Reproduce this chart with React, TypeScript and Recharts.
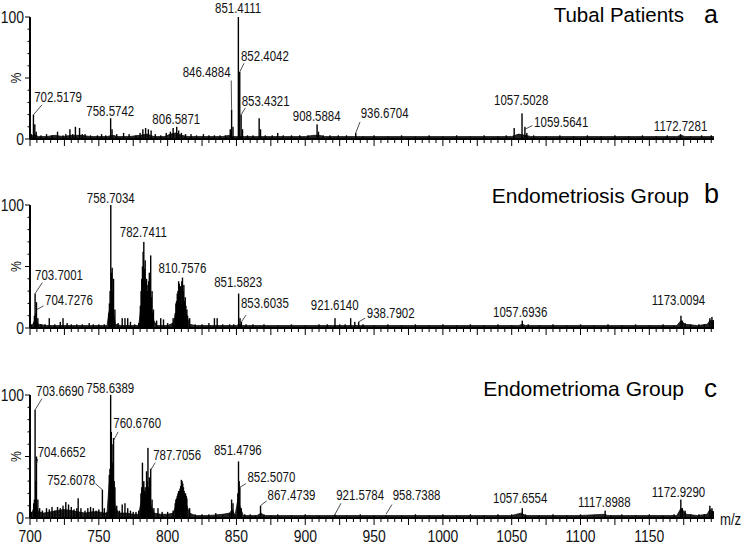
import React from "react";
import { ComposedChart, Bar, Area, XAxis, YAxis, ReferenceDot, ReferenceLine } from "recharts";

// m/z axis
const mzDomain: [number, number] = [700, 1197];
const mzLabels = [700, 750, 800, 850, 900, 950, 1000, 1050, 1100, 1150];
const yTicks = [0, 10, 20, 30, 40, 50, 60, 70, 80, 90, 100];

// [m/z, relative intensity %] — sticks
const tubalPeaks: [number, number][] = [
  [701, 4], [702.5, 20], [703.5, 12], [704.5, 6], [708, 3], [712, 4], [716, 3], [720, 6], [724, 3], [726, 4],
  [729, 8], [731, 4], [733, 10], [736, 9], [738, 4], [740, 4], [744, 3], [749, 3], [752, 4], [755, 3],
  [758.6, 17], [759.6, 8], [763, 4], [768, 5], [772, 4], [777, 3], [780, 5], [782, 8], [784, 9], [786, 8],
  [788, 7], [791, 4], [795, 3], [799, 5], [802, 6], [804, 9], [806.6, 10], [808, 7], [810, 5], [813, 4],
  [817, 4], [821, 3], [826, 4], [830, 3], [834, 3], [838, 3], [842, 3], [845.5, 8], [846.5, 24], [847.5, 10],
  [851.4, 100], [852.4, 55], [853.4, 20], [854.4, 8], [858, 3], [862, 3], [866.5, 17], [867.5, 8], [871, 3], [876, 3],
  [880, 5], [884, 3], [890, 3], [896, 3], [902, 3], [908.6, 12], [909.6, 6], [913, 3], [918, 3], [924, 3],
  [930, 3], [936.7, 5], [942, 2], [950, 3], [960, 2], [970, 3], [980, 2], [990, 3], [1000, 2], [1010, 3],
  [1020, 2], [1030, 3], [1040, 2], [1046, 3], [1051.8, 9], [1057.5, 21], [1059.6, 10], [1061, 5], [1066, 3], [1075, 2],
  [1085, 3], [1095, 2], [1105, 3], [1115, 2], [1125, 3], [1135, 2], [1145, 3], [1155, 2], [1163, 3], [1172.7, 4],
  [1180, 2], [1188, 3], [1195, 3],
];
const tubalProfile: [number, number][] = [
  [700, 0], [701, 2], [703, 4], [706, 2], [712, 2], [718, 3], [724, 2], [730, 3], [737, 3], [744, 2],
  [750, 2], [756, 2], [760, 3], [764, 2], [772, 2], [780, 3], [785, 4], [790, 2], [798, 2], [802, 4],
  [806, 5], [810, 3], [815, 2], [822, 2], [830, 2], [840, 2], [845, 3], [848, 2], [850, 2], [856, 2],
  [865, 2], [870, 2], [880, 2], [890, 2], [900, 2], [906, 3], [910, 3], [914, 2], [930, 2], [936, 2],
  [940, 2], [960, 2], [980, 2], [1000, 2], [1020, 2], [1040, 2], [1050, 2], [1055, 4], [1060, 3], [1064, 2],
  [1100, 2], [1140, 2], [1170, 2], [1173, 3], [1176, 2], [1197, 2],
];

const endosisPeaks: [number, number][] = [
  [701, 3], [703.2, 10], [703.7, 28], [704.2, 12], [704.7, 21], [705.7, 8], [708, 3], [711, 3], [714, 8], [718, 3],
  [722, 5], [724, 8], [727, 4], [730, 3], [734, 3], [738, 3], [743, 4], [746, 3], [750, 3], [754, 3],
  [757.2, 12], [757.7, 20], [758.2, 30], [758.7, 100], [759.2, 45], [759.7, 49], [760.2, 30], [760.7, 40], [761.7, 15], [764, 4],
  [767, 8], [769, 8], [771, 8], [773, 5], [776, 3], [779, 4], [780.2, 18], [780.7, 30], [781.2, 40], [781.7, 50],
  [782.2, 62], [782.7, 70], [783.2, 48], [783.7, 55], [784.2, 38], [784.7, 40], [785.2, 30], [785.7, 35], [786.2, 38], [786.7, 45],
  [787.2, 28], [787.7, 59], [788.2, 25], [788.7, 30], [789.2, 12], [789.7, 15], [792, 6], [795, 8], [797, 7], [800, 4],
  [804, 8], [805.5, 12], [806, 20], [806.5, 22], [807, 28], [807.5, 30], [808, 38], [808.5, 36], [809, 30], [809.5, 34],
  [810.3, 38], [810.8, 41], [811.3, 30], [811.8, 35], [812.3, 22], [812.8, 25], [813.3, 18], [814, 15], [814.5, 10], [816, 8],
  [820, 3], [825, 3], [830, 4], [834, 8], [836, 8], [840, 3], [845, 3], [848, 3], [851.6, 28], [852.6, 8],
  [853.6, 5], [857, 3], [862, 3], [870, 3], [880, 2], [890, 3], [900, 2], [910, 3], [916, 3], [921.6, 8],
  [925, 3], [929, 3], [933, 8], [936, 5], [938.8, 5], [942, 3], [950, 2], [960, 3], [970, 2], [980, 3],
  [990, 2], [1000, 3], [1010, 2], [1020, 3], [1030, 2], [1040, 3], [1050, 2], [1057.7, 6], [1062, 3], [1070, 2],
  [1080, 3], [1090, 2], [1100, 3], [1110, 2], [1120, 3], [1130, 2], [1140, 3], [1150, 2], [1160, 3], [1168, 2],
  [1173, 10], [1174, 6], [1176, 4], [1180, 3], [1186, 3], [1190, 3], [1194, 8], [1195.5, 9], [1196.5, 6],
];
const endosisProfile: [number, number][] = [
  [700, 0], [702, 3], [704, 8], [706, 3], [712, 2], [720, 2], [730, 2], [740, 2], [750, 2], [756, 2],
  [757.5, 14], [760, 16], [762, 3], [766, 2], [775, 2], [779, 2], [780.5, 16], [782, 28], [784, 30], [786, 25],
  [788, 16], [790, 6], [792, 2], [800, 2], [804, 4], [806, 12], [808, 17], [810, 19], [812, 17], [814, 10],
  [816, 3], [820, 2], [830, 2], [840, 2], [850, 2], [852, 3], [854, 2], [880, 2], [920, 2], [935, 2],
  [940, 2], [1000, 2], [1055, 2], [1058, 3], [1060, 2], [1100, 2], [1170, 2], [1173, 6], [1176, 3], [1185, 2],
  [1192, 3], [1194, 6], [1197, 6],
];

const endomaPeaks: [number, number][] = [
  [701, 5], [702.7, 12], [703.2, 15], [703.7, 88], [704.2, 30], [704.7, 50], [705.7, 15], [707, 8], [709, 6], [712, 8],
  [714, 7], [716, 9], [718, 6], [720, 9], [722, 8], [724, 10], [726, 13], [728, 11], [730, 9], [732, 7],
  [734, 8], [735, 16], [737, 8], [740, 6], [742, 8], [744, 9], [746, 8], [748, 6], [750, 7], [752.6, 23],
  [754, 8], [756, 5], [757.6, 35], [758.1, 40], [758.6, 100], [759.1, 70], [759.6, 60], [760.2, 45], [760.7, 65], [761.2, 30],
  [761.7, 25], [763, 10], [765, 6], [767, 11], [769, 12], [771, 8], [773, 6], [775, 5], [777, 5], [779, 6],
  [780.6, 20], [781.2, 25], [781.7, 45], [782.2, 28], [782.7, 30], [783.2, 22], [783.7, 25], [784.2, 20], [784.7, 38], [785.2, 30],
  [785.7, 57], [786.2, 25], [786.7, 33], [787.2, 30], [787.7, 40], [788.7, 15], [790, 8], [793, 8], [796, 5], [800, 5],
  [804, 6], [805.5, 12], [806, 15], [806.5, 16], [807, 18], [807.5, 20], [808, 22], [808.5, 22], [809, 24], [809.5, 26],
  [810, 31], [810.5, 30], [811, 28], [811.5, 25], [812, 22], [812.5, 20], [813, 20], [813.5, 18], [814, 16], [816, 8],
  [820, 3], [825, 3], [830, 3], [835, 4], [840, 3], [845, 4], [846.5, 15], [847.5, 12], [849, 3], [851, 20],
  [851.5, 46], [852, 30], [852.5, 25], [853.5, 8], [856, 3], [860, 3], [864, 2], [867.5, 10], [870, 3], [875, 2],
  [880, 3], [890, 2], [900, 3], [910, 2], [921.6, 3], [930, 2], [940, 3], [950, 2], [958.7, 2], [970, 2],
  [980, 3], [990, 2], [1000, 3], [1010, 2], [1020, 3], [1030, 2], [1040, 3], [1050, 3], [1057.7, 8], [1060, 3],
  [1070, 2], [1080, 3], [1090, 2], [1100, 3], [1110, 2], [1117.9, 6], [1122, 2], [1130, 3], [1140, 2], [1150, 3],
  [1160, 2], [1168, 3], [1172.9, 15], [1174, 8], [1176, 6], [1180, 3], [1186, 3], [1190, 3], [1194, 10], [1195.5, 8],
  [1196.5, 5],
];
const endomaProfile: [number, number][] = [
  [700, 0], [702, 6], [704, 12], [706, 5], [710, 4], [715, 5], [720, 6], [725, 7], [730, 6], [735, 5],
  [740, 4], [745, 5], [750, 5], [754, 4], [756, 4], [757.5, 28], [760, 32], [762, 8], [765, 4], [770, 4],
  [775, 3], [779, 3], [780.5, 12], [782, 17], [784, 19], [786, 18], [788, 10], [790, 4], [795, 3], [800, 3],
  [804, 4], [806, 10], [808, 15], [810, 18], [812, 17], [814, 10], [816, 4], [820, 2], [830, 2], [840, 3],
  [845, 4], [847, 7], [849, 2], [851, 15], [853, 8], [855, 2], [865, 2], [868, 4], [870, 2], [900, 2],
  [950, 2], [1000, 2], [1050, 2], [1057, 4], [1060, 2], [1100, 2], [1117, 3], [1120, 2], [1170, 2], [1173, 8],
  [1177, 3], [1185, 2], [1192, 3], [1194, 7], [1197, 5],
];

// peak annotations: label anchor in (m/z, %) and optional leader line
type Note = { text: string; x: number; y: number; anchor: "start" | "middle" | "end"; leader?: [number, number, number, number] };

const tubalNotes: Note[] = [
  { text: "702.5179", x: 720.4, y: 30, anchor: "middle", leader: [702.6, 20, 708.7, 28] },
  { text: "758.5742", x: 758.3, y: 19, anchor: "middle" },
  { text: "806.5871", x: 806.3, y: 12.5, anchor: "middle" },
  { text: "846.4884", x: 845.7, y: 51, anchor: "end", leader: [846.5, 24, 846.2, 48] },
  { text: "851.4111", x: 851.2, y: 103, anchor: "middle" },
  { text: "852.4042", x: 853.3, y: 64, anchor: "start", leader: [852.4, 55, 855.5, 62] },
  { text: "853.4321", x: 853.8, y: 27, anchor: "start", leader: [853.4, 20, 856.5, 25.5] },
  { text: "908.5884", x: 908.3, y: 15, anchor: "middle" },
  { text: "936.6704", x: 940.3, y: 17, anchor: "start", leader: [936.7, 5, 939.8, 14] },
  { text: "1057.5028", x: 1056.9, y: 28, anchor: "middle" },
  { text: "1059.5641", x: 1066.3, y: 10, anchor: "start", leader: [1059.6, 8, 1065, 11] },
  { text: "1172.7281", x: 1172.7, y: 6.5, anchor: "middle" },
];
const endosisNotes: Note[] = [
  { text: "703.7001", x: 721.1, y: 39, anchor: "middle", leader: [703.7, 28, 709, 37] },
  { text: "704.7276", x: 710.9, y: 19, anchor: "start", leader: [705, 15, 709.8, 18] },
  { text: "758.7034", x: 758.7, y: 102, anchor: "middle" },
  { text: "782.7411", x: 782.3, y: 74, anchor: "middle" },
  { text: "810.7576", x: 810.7, y: 45, anchor: "middle" },
  { text: "851.5823", x: 851.2, y: 33, anchor: "middle" },
  { text: "853.6035", x: 853.3, y: 16.5, anchor: "start", leader: [853.6, 5, 857, 10.5] },
  { text: "921.6140", x: 921.4, y: 15, anchor: "middle" },
  { text: "938.7902", x: 944.7, y: 8, anchor: "start", leader: [938.8, 5, 943.5, 8] },
  { text: "1057.6936", x: 1056.2, y: 9, anchor: "middle" },
  { text: "1173.0094", x: 1171.2, y: 19, anchor: "middle" },
];
const endomaNotes: Note[] = [
  { text: "703.6690", x: 704.4, y: 99, anchor: "start", leader: [703.7, 88, 708.7, 97] },
  { text: "704.6652", x: 705.6, y: 50, anchor: "start", leader: [704.7, 44, 705.6, 48] },
  { text: "752.6078", x: 747.3, y: 27, anchor: "end", leader: [747.5, 28, 752.6, 23] },
  { text: "758.6389", x: 758.3, y: 102, anchor: "middle" },
  { text: "760.6760", x: 760.5, y: 73, anchor: "start", leader: [760.7, 63, 764, 70] },
  { text: "787.7056", x: 789.5, y: 47, anchor: "start", leader: [787.7, 39, 791, 45] },
  { text: "851.4796", x: 851, y: 51, anchor: "middle" },
  { text: "852.5070", x: 858, y: 29, anchor: "start", leader: [852.5, 25, 857, 28] },
  { text: "867.4739", x: 872.6, y: 15, anchor: "start", leader: [867.5, 10, 872, 14] },
  { text: "921.5784", x: 922.5, y: 15, anchor: "start", leader: [921.6, 3, 926, 12] },
  { text: "958.7388", x: 963.5, y: 15, anchor: "start", leader: [958.7, 3, 963, 11] },
  { text: "1057.6554", x: 1056.2, y: 12, anchor: "middle" },
  { text: "1117.8988", x: 1117.3, y: 9, anchor: "middle" },
  { text: "1172.9290", x: 1171.2, y: 17, anchor: "middle" },
];

const SANS = "'Liberation Sans', Arial, sans-serif";
const xTicks = Array.from({ length: 100 }, (_, i) => 700 + i * 5);

// Arial squeezed horizontally, stands in for Arial Narrow
function Narrow({ x, y, size, anchor = "start", children, rotate = 0 }: {
  x: number; y: number; size: number; anchor?: "start" | "middle" | "end"; children: React.ReactNode; rotate?: number;
}) {
  return (
    <text transform={`translate(${x} ${y}) rotate(${rotate}) scale(0.82 1)`} textAnchor={anchor}
      fontFamily={SANS} fontSize={size} fill="#111">
      {children}
    </text>
  );
}

// fixed-width stick, centred on the bar slot recharts computes
const Stick = (p: any) =>
  p.height > 0 ? <rect x={p.x + p.width / 2 - 0.7} y={p.y} width={1.4} height={p.height} fill="#000" /> : null;

function XTick(props: any, showLabels: boolean) {
  const { x, y, payload } = props;
  const v = payload.value;
  const major = v % 25 === 0;
  return (
    <g>
      <line x1={x} x2={x} y1={y} y2={y + (major ? 7 : 4)} stroke="#000" strokeWidth={1} />
      {showLabels && mzLabels.includes(v) && <Narrow x={x} y={y + 24} size={17} anchor="middle">{v}</Narrow>}
    </g>
  );
}

function YTick(props: any) {
  const { x, y, payload } = props;
  const v = payload.value;
  const major = v % 50 === 0;
  return (
    <g>
      <line x1={x - (major ? 5 : 2.5)} x2={x} y1={y} y2={y} stroke="#000" strokeWidth={1} />
      {(v === 0 || v === 100) && <Narrow x={x - 6} y={y + 6} size={17} anchor="end">{v}</Narrow>}
      {v === 50 && <Narrow x={x - 9} y={y} size={15} anchor="middle" rotate={-90}>%</Narrow>}
    </g>
  );
}

function Panel({ peaks, profile, notes, top, height, marginTop, axisHeight, showLabels }: {
  peaks: [number, number][]; profile: [number, number][]; notes: Note[];
  top: number; height: number; marginTop: number; axisHeight: number; showLabels: boolean;
}) {
  const sticks = peaks.map(([mz, v]) => ({ mz, v }));
  const env = profile.map(([mz, v]) => ({ mz, v }));
  return (
    <div style={{ position: "absolute", left: 0, top }}>
      <ComposedChart width={742} height={height} data={sticks} margin={{ top: marginTop, right: 28, bottom: 0, left: 0 }}>
        <XAxis type="number" dataKey="mz" domain={mzDomain} ticks={xTicks} interval={0} allowDataOverflow
          height={axisHeight} tickSize={0} tickMargin={0} tickLine={false}
          axisLine={{ stroke: "#000", strokeWidth: 2 }} tick={(p: any) => XTick(p, showLabels)} />
        <YAxis type="number" domain={[0, 100]} ticks={yTicks} interval={0} width={30} allowDataOverflow
          tickSize={0} tickMargin={0} tickLine={false} axisLine={{ stroke: "#000", strokeWidth: 2 }} tick={YTick} />
        <Area data={env} dataKey="v" type="linear" stroke="#111" strokeWidth={0.8} fill="#222" fillOpacity={1}
          dot={false} activeDot={false} isAnimationActive={false} />
        <Bar dataKey="v" shape={Stick} fill="#000" isAnimationActive={false} />
        {notes.filter((n) => n.leader).map((n) => (
          <ReferenceLine key={"l" + n.text} ifOverflow="visible" stroke="#222" strokeWidth={0.8}
            segment={[{ x: n.leader![0], y: n.leader![1] }, { x: n.leader![2], y: n.leader![3] }]} />
        ))}
        {notes.map((n) => (
          <ReferenceDot key={n.text} x={n.x} y={n.y} r={0} ifOverflow="visible"
            shape={(p: any) => <Narrow x={p.cx} y={p.cy} size={14} anchor={n.anchor}>{n.text}</Narrow>} />
        ))}
      </ComposedChart>
    </div>
  );
}

export default function App() {
  return (
    <div style={{ position: "relative", width: 742, height: 544, background: "#fff", overflow: "hidden" }}>
      <style>{"body{margin:0}"}</style>
      <Panel peaks={tubalPeaks} profile={tubalProfile} notes={tubalNotes} top={0} height={160} marginTop={17} axisHeight={21} showLabels={false} />
      <Panel peaks={endosisPeaks} profile={endosisProfile} notes={endosisNotes} top={170} height={170} marginTop={35} axisHeight={12} showLabels={false} />
      <Panel peaks={endomaPeaks} profile={endomaProfile} notes={endomaNotes} top={350} height={194} marginTop={45} axisHeight={26} showLabels={true} />
      <svg width={742} height={544} style={{ position: "absolute", left: 0, top: 0, pointerEvents: "none" }}>
        <g fontFamily={SANS} fill="#000">
          <text x={684} y={22} textAnchor="end" fontSize={20.5}>Tubal Patients</text>
          <text x={704} y={23} fontSize={25}>a</text>
          <text x={689} y={203} textAnchor="end" fontSize={21}>Endometriosis Group</text>
          <text x={704} y={203} fontSize={27}>b</text>
          <text x={684} y={396} textAnchor="end" fontSize={21}>Endometrioma Group</text>
          <text x={704} y={397} fontSize={26}>c</text>
        </g>
        <Narrow x={720} y={525} size={16}>m/z</Narrow>
      </svg>
    </div>
  );
}
